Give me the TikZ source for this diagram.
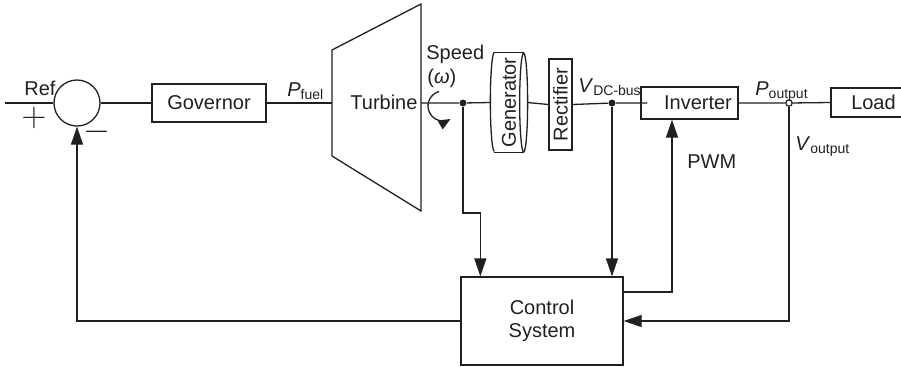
\documentclass[tikz,border=0pt]{standalone}
\usepackage{fontspec}
\setmainfont{Liberation Sans}
\usepackage{graphicx}
\usepackage{tikz}
\usetikzlibrary{arrows.meta}
\definecolor{ink}{HTML}{231F20}
\newcommand{\qsub}[2]{\textit{#1}\raisebox{-1.5pt}{\fontsize{7}{8}\selectfont #2}}

\begin{document}
\begin{tikzpicture}[
  x=0.5pt, y=-0.5pt,
  every node/.style={font=\fontsize{10}{11.5}\selectfont, text=ink},
  block/.style={draw=ink, line width=0.65pt, inner sep=0pt, align=center},
  line/.style={draw=ink, line width=0.65pt},
  arr/.style={-{Triangle[length=9pt,width=6pt]}, draw=ink, line width=0.65pt},
  tag/.style={anchor=base west, inner sep=0pt},
  sign/.style={inner sep=0pt},
  junc/.style={circle, fill=ink, inner sep=0pt, minimum size=3.5pt},
  tap/.style={circle, draw=ink, fill=white, inner sep=0pt, minimum size=3.2pt, line width=0.6pt}
]
\useasboundingbox (0,0) rectangle (901,366);
\coordinate (refin) at (5,103);
\coordinate (turbin) at (332,103);
\coordinate (turbout) at (421,103);
\node[block,circle,minimum size=23pt] (sum) at (77,103) {};
\node[block,minimum width=57pt,minimum height=19pt] (gov) at (209,103) {Governor};
\node[junc] (spd) at (463,103) {};
\node[block,draw=none,minimum width=14pt,minimum height=49.5pt] (gen) at (509,102.5) {\rotatebox{90}{Generator}};
\node[block,minimum width=11.5pt,minimum height=45.5pt] (rect) at (560.5,104.5) {\rotatebox{90}{Rectifier}};
\node[junc] (dcbus) at (612,103) {};
\node[block,minimum width=48.5pt,minimum height=16pt] (inv) at (689.5,103) {\hspace{8.5pt}Inverter};
\node[tap] (vout) at (789,103) {};
\node[block,minimum width=42.5pt,minimum height=14.5pt] (load) at (873.5,102.5) {Load};
\node[block,minimum width=81pt,minimum height=44pt] (ctrl) at (542,321) {Control\\System};
% labels
\node[tag] (reflbl) at (24,95) {Ref};
\node[sign,font=\fontsize{18}{18}\selectfont] (plus) at (34,118) {$+$};
\node[sign,font=\fontsize{16}{16}\selectfont] (minus) at (96.5,132) {$-$};
\node[tag] (pfuel) at (287,96) {\qsub{P}{fuel}};
\node[tag] (turb) at (350,109) {Turbine};
\node[tag] (speed) at (426,59) {Speed};
\node[tag] (omega) at (427,83) {(\textit{ω})};
\node[tag] (vdc) at (578,92) {\qsub{V}{DC-bus}};
\node[tag] (pout) at (755,95) {\qsub{P}{output}};
\node[tag] (voutlbl) at (795,150) {\qsub{V}{output}};
\node[tag] (pwm) at (687,168) {PWM};
% turbine and generator
\draw[line,line join=miter] (332,50) -- (421,4) -- (421,211) -- (332,156) -- cycle;
\draw[line] (gen.north west) -- (gen.north east);
\draw[line] (gen.south west) -- (gen.south east);
\draw[line] (gen.north west) arc[start angle=90, end angle=270, x radius=2pt, y radius=24.75pt];
\draw[line] (gen.east) ellipse[x radius=2pt, y radius=24.75pt];
\draw[line,-{Triangle[length=6pt,width=5pt]}] ([shift={(105:7.5pt)}]443,106) arc[start angle=105, end angle=300, radius=7.5pt];
% signal path
\draw[line] (refin) -- (sum.west);
\draw[line] (sum.east) -- (gov.west);
\draw[line] (gov.east) -- (turbin);
\draw[line] (turbout) -- (spd) -- ([xshift=-2pt]gen.west);
\draw[line] ([xshift=2pt]gen.east) -- (rect.west);
\draw[line] (rect.east) -- (dcbus) -- ([xshift=3.5pt]inv.west);
\draw[line] (inv.east) -- (vout) -- (load.west);
% feedback
\draw[arr] (spd) -- ++(0,110) -| ([xshift=10pt]ctrl.north west);
\draw[arr] (dcbus) -- (dcbus |- ctrl.north);
\draw[arr] ([yshift=14.5pt]ctrl.east) -| ([xshift=-8.75pt]inv.south);
\draw[arr] (vout) |- (ctrl.east);
\draw[arr] (ctrl.west) -| (sum.south);
\end{tikzpicture}
\end{document}
